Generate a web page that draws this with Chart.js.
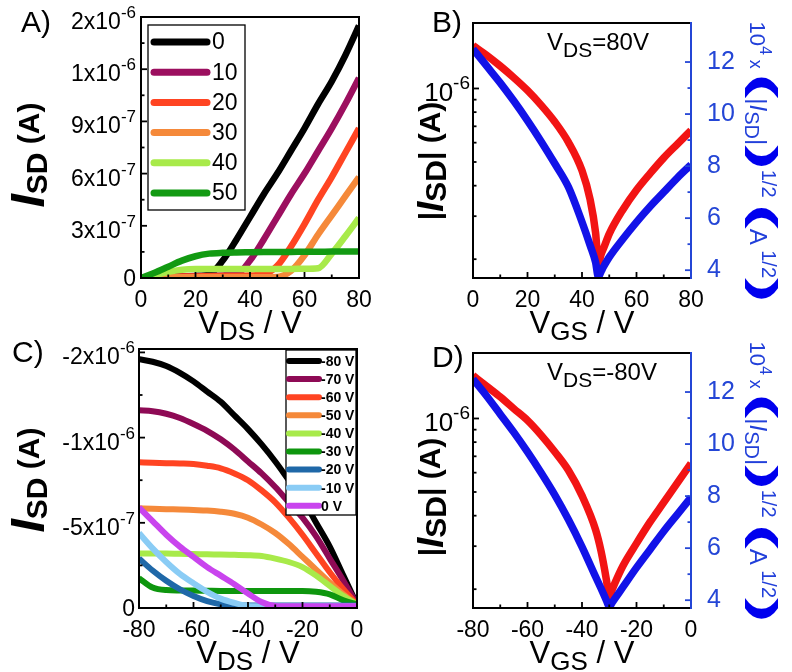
<!DOCTYPE html>
<html>
<head>
<meta charset="utf-8">
<script src="https://cdn.jsdelivr.net/npm/chart.js@4.4.0/dist/chart.umd.min.js"></script>
<style>
  body { margin: 0; background: #fff; }
  #wrap { position: relative; width: 792px; height: 672px; overflow: hidden; }
  canvas { position: absolute; }
</style>
</head>
<body>
<div id="wrap">
  <canvas id="chartA" width="396" height="345" style="left:0;top:0"></canvas>
  <canvas id="chartB" width="396" height="345" style="left:396px;top:0"></canvas>
  <canvas id="chartC" width="396" height="342" style="left:0;top:330px"></canvas>
  <canvas id="chartD" width="396" height="342" style="left:396px;top:330px"></canvas>
</div>
<script>
// ======================
// Data (currents in µA)
// ======================
const aVds = [0, 5, 10, 15, 20, 25, 30, 35, 40, 45, 50, 55, 60, 65, 70, 75, 80];
const aLabels = ['0', '10', '20', '30', '40', '50'];
const aColors = ['#000000', '#9C0F5F', '#FF4422', '#F5893A', '#A8EA4A', '#129A12'];
const aVg0  = [0, 0.005, 0.008, 0.01, 0.012, 0.02, 0.1, 0.22, 0.35, 0.48, 0.6, 0.73, 0.86, 1.0, 1.13, 1.28, 1.45];
const aVg10 = [0, 0.004, 0.007, 0.009, 0.01, 0.012, 0.015, 0.02, 0.1, 0.22, 0.35, 0.48, 0.6, 0.73, 0.86, 1.0, 1.15];
const aVg20 = [0, 0.003, 0.006, 0.008, 0.009, 0.01, 0.011, 0.012, 0.014, 0.02, 0.07, 0.18, 0.31, 0.45, 0.58, 0.72, 0.86];
const aVg30 = [0, 0.002, 0.004, 0.005, 0.005, 0.005, 0.005, 0.005, 0.005, 0.005, 0.006, 0.04, 0.13, 0.25, 0.36, 0.47, 0.58];
const aVg40 = [0, 0.015, 0.035, 0.048, 0.052, 0.052, 0.052, 0.052, 0.052, 0.052, 0.052, 0.052, 0.053, 0.056, 0.14, 0.24, 0.345];
const aVg50 = [0, 0.03, 0.065, 0.1, 0.125, 0.14, 0.145, 0.147, 0.148, 0.149, 0.15, 0.15, 0.151, 0.151, 0.152, 0.152, 0.153];
const aXTicks = [0, 20, 40, 60, 80];
const aYTicks = [0, 0.3, 0.6, 0.9, 1.2, 1.5];
const aYTickLabels = ['0', '3x10^-7', '6x10^-7', '9x10^-7', '1x10^-6', '2x10^-6'];

const bVgs  = [0, 5, 10, 15, 20, 25, 30, 35, 40, 43, 45, 46, 47, 48, 50, 55, 60, 65, 70, 75, 80];
const bIsd  = [1.50, 1.368, 1.236, 1.107, 0.982, 0.855, 0.731, 0.603, 0.461, 0.350, 0.256, 0.192, 0.209, 0.223, 0.254, 0.319, 0.384, 0.449, 0.520, 0.592, 0.673];
const bSqrt = [12.5, 11.85, 11.2, 10.5, 9.75, 8.95, 8.1, 7.2, 5.85, 4.95, 4.3, 3.75, 3.95, 4.15, 4.5, 5.2, 5.85, 6.45, 7.0, 7.55, 8.05];

const cVds = [-80, -75, -70, -65, -60, -55, -50, -45, -40, -35, -30, -25, -20, -15, -10, -5, 0];
const cLabels = ['-80 V', '-70 V', '-60 V', '-50 V', '-40 V', '-30 V', '-20 V', '-10 V', '0 V'];
const cColors = ['#000000', '#8E0A55', '#FF4422', '#F5893A', '#A8EA4A', '#0E960E', '#1F68A8', '#8ACCF5', '#C944EE'];
const cVg80 = [-1.46, -1.445, -1.42, -1.38, -1.33, -1.27, -1.21, -1.13, -1.05, -0.96, -0.86, -0.75, -0.64, -0.5, -0.36, -0.19, -0.02];
const cVg70 = [-1.16, -1.155, -1.14, -1.115, -1.08, -1.04, -0.99, -0.93, -0.86, -0.79, -0.71, -0.62, -0.53, -0.42, -0.29, -0.16, -0.02];
const cVg60 = [-0.855, -0.853, -0.85, -0.848, -0.845, -0.835, -0.82, -0.79, -0.75, -0.69, -0.62, -0.53, -0.43, -0.32, -0.21, -0.11, -0.02];
const cVg50 = [-0.585, -0.583, -0.58, -0.578, -0.575, -0.572, -0.565, -0.553, -0.53, -0.49, -0.44, -0.375, -0.3, -0.225, -0.15, -0.08, -0.02];
const cVg40 = [-0.32, -0.32, -0.32, -0.318, -0.317, -0.315, -0.314, -0.312, -0.31, -0.305, -0.29, -0.27, -0.24, -0.19, -0.13, -0.07, -0.02];
const cVg30 = [-0.175, -0.12, -0.105, -0.103, -0.102, -0.101, -0.1, -0.1, -0.1, -0.1, -0.1, -0.1, -0.1, -0.095, -0.08, -0.045, -0.02];
const cVg20 = [-0.29, -0.22, -0.16, -0.11, -0.07, -0.04, -0.022, -0.016, -0.015, -0.015, -0.015, -0.015, -0.015, -0.015, -0.015, -0.015, -0.015];
const cVg10 = [-0.44, -0.35, -0.27, -0.2, -0.145, -0.095, -0.055, -0.03, -0.012, -0.01, -0.01, -0.01, -0.01, -0.01, -0.01, -0.01, -0.01];
const cVg0  = [-0.59, -0.51, -0.43, -0.36, -0.3, -0.24, -0.19, -0.14, -0.085, -0.035, -0.012, -0.01, -0.01, -0.01, -0.01, -0.01, -0.01];
const cXTicks = [-80, -60, -40, -20, 0];
const cYTicks = [0, -0.5, -1.0, -1.5];
const cYTickLabels = ['0', '-5x10^-7', '-1x10^-6', '-2x10^-6'];

const dVgs  = [-80, -75, -70, -65, -60, -55, -50, -45, -40, -35, -33, -31, -30, -29, -28, -25, -20, -15, -10, -5, 0];
const dIsd  = [1.50, 1.355, 1.225, 1.096, 0.982, 0.855, 0.731, 0.614, 0.483, 0.350, 0.286, 0.217, 0.184, 0.198, 0.211, 0.249, 0.308, 0.377, 0.453, 0.545, 0.655];
const dSqrt = [12.5, 11.85, 11.15, 10.45, 9.7, 8.9, 8.05, 7.1, 6.05, 4.9, 4.45, 3.98, 3.75, 3.9, 4.05, 4.5, 5.25, 5.95, 6.65, 7.3, 7.95];

const logTicks = [1];
const logTickLabels = ['10^-6'];
const logMinor = [0.2, 0.3, 0.4, 0.5, 0.6, 0.7, 0.8, 0.9];
const sqrtTicks = [4, 6, 8, 10, 12];

// ======================
// Helpers
// ======================
const FONT = "'Liberation Sans', Arial, Helvetica, sans-serif";
const f = (size, weight = 'normal', style = 'normal') => `${style} ${weight} ${size}px ${FONT}`;
const BLUE_AX = '#2446D6';
const BLUE_PAREN = '#0000EE';

Chart.defaults.font.family = FONT;

const setTicks = values => scale => { scale.ticks = values.map(v => ({ value: v })); };
const points = (xs, ys) => xs.map((x, i) => ({ x: x, y: ys[i] }));
const mids = vals => vals.slice(1).map((v, i) => (v + vals[i]) / 2);

function drawRich(ctx, item) {
  ctx.save();
  ctx.translate(item.x, item.y);
  ctx.rotate(item.angle || 0);
  ctx.textBaseline = 'alphabetic';
  let total = 0;
  const widths = item.parts.map(p => {
    ctx.font = p.font;
    const w = ctx.measureText(p.t).width * (p.sx || 1);
    total += w;
    return w;
  });
  let cx = 0;
  if (item.align === 'center') cx = -total / 2;
  if (item.align === 'right') cx = -total;
  item.parts.forEach((p, i) => {
    ctx.font = p.font;
    ctx.fillStyle = p.color || item.color || '#000';
    ctx.save();
    ctx.translate(cx, p.dy || 0);
    ctx.scale(p.sx || 1, 1);
    ctx.fillText(p.t, 0, 0);
    ctx.restore();
    cx += widths[i];
  });
  ctx.restore();
}

const textPlugin = items => ({
  id: 'richText',
  afterDraw(chart) { items.forEach(it => drawRich(chart.ctx, it)); }
});

// y tick labels of the form "3x10^-7": base text plus raised exponent
const supTickPlugin = (scaleId, labels, o) => ({
  id: 'supTicks',
  afterDraw(chart) {
    const s = chart.scales[scaleId];
    const a = chart.chartArea;
    s.ticks.forEach((t, i) => {
      const [base, sup] = labels[i].split('^');
      const py = s.getPixelForValue(t.value);
      const parts = [{ t: base, font: f(o.size) }];
      if (sup) parts.push({ t: sup, font: f(o.supSize), dy: -o.rise });
      drawRich(chart.ctx, { x: a.left - o.pad, y: py + (sup ? o.drop : o.size * 0.36), align: 'right', parts: parts });
    });
  }
});

const legendPlugin = o => ({
  id: 'boxLegend',
  afterDatasetsDraw(chart) {
    const ctx = chart.ctx;
    ctx.save();
    ctx.fillStyle = '#fff';
    ctx.fillRect(o.x, o.y, o.w, o.h);
    ctx.lineWidth = 1.3;
    ctx.strokeStyle = '#000';
    ctx.strokeRect(o.x, o.y, o.w, o.h);
    ctx.font = o.font;
    ctx.textBaseline = 'middle';
    ctx.lineCap = 'round';
    chart.data.datasets.forEach((ds, i) => {
      const y = o.row0 + i * o.rowH;
      ctx.strokeStyle = ds.borderColor;
      ctx.lineWidth = o.lw;
      ctx.beginPath();
      ctx.moveTo(o.lx0, y);
      ctx.lineTo(o.lx1, y);
      ctx.stroke();
      ctx.fillStyle = '#000';
      ctx.fillText(ds.label, o.tx, y + 1);
    });
    ctx.restore();
  }
});

const framePlugin = o => ({
  id: 'frame',
  afterDatasetsDraw(chart) {
    const { ctx, chartArea: a, scales } = chart;
    ctx.save();
    ctx.lineWidth = 1.8;
    const mark = (s, v, len, color) => {
      const p = s.getPixelForValue(v);
      ctx.strokeStyle = color;
      ctx.beginPath();
      if (s.axis === 'x') { ctx.moveTo(p, a.bottom); ctx.lineTo(p, a.bottom - len); }
      else if (s.position === 'left') { ctx.moveTo(a.left, p); ctx.lineTo(a.left + len, p); }
      else { ctx.moveTo(a.right, p); ctx.lineTo(a.right - len, p); }
      ctx.stroke();
    };
    Object.values(scales).forEach(s => {
      const color = s.id === 'y2' ? BLUE_AX : '#000';
      s.ticks.forEach(t => mark(s, t.value, 6, color));
      (o.minor[s.id] || []).forEach(v => mark(s, v, 3.5, color));
    });
    ctx.lineWidth = 2;
    ctx.strokeStyle = '#000';
    ctx.beginPath();
    ctx.moveTo(a.right, a.top);
    ctx.lineTo(a.left, a.top);
    ctx.lineTo(a.left, a.bottom);
    ctx.lineTo(a.right, a.bottom);
    ctx.stroke();
    ctx.strokeStyle = o.rightColor || '#000';
    ctx.beginPath();
    ctx.moveTo(a.right, a.top - 1);
    ctx.lineTo(a.right, a.bottom + 1);
    ctx.stroke();
    ctx.restore();
  }
});

const tickFont = size => ({ family: FONT, size: size });

function baseScales(xTicks, xMin, xMax, xH, yW) {
  return {
    x: {
      type: 'linear', min: xMin, max: xMax,
      afterBuildTicks: setTicks(xTicks),
      afterFit: s => { s.height = xH; },
      grid: { display: false }, border: { display: false },
      ticks: { font: tickFont(23), color: '#000', padding: 1, maxRotation: 0, autoSkip: false }
    },
    y: {
      position: 'left',
      afterFit: s => { s.width = yW; },
      grid: { display: false }, border: { display: false },
      ticks: { display: false }
    }
  };
}

const commonOpts = padding => ({
  responsive: false,
  animation: false,
  events: [],
  layout: { padding: padding },
  plugins: { legend: { display: false }, tooltip: { enabled: false } }
});

// ======================
// Panel A
// ======================
(function () {
  const series = [aVg0, aVg10, aVg20, aVg30, aVg40, aVg50];
  const scales = baseScales(aXTicks, 0, 80, 345 - 278, 141);
  Object.assign(scales.y, { type: 'linear', min: 0, max: 1.5, afterBuildTicks: setTicks(aYTicks) });
  new Chart(document.getElementById('chartA'), {
    type: 'line',
    data: {
      datasets: series.map((s, i) => ({
        label: aLabels[i], data: points(aVds, s), borderColor: aColors[i],
        borderWidth: 6.5, pointRadius: 0, cubicInterpolationMode: 'monotone', order: -i
      }))
    },
    options: Object.assign(commonOpts({ top: 17, right: 37, bottom: 0, left: 0 }), { scales: scales }),
    plugins: [
      legendPlugin({ x: 148, y: 25, w: 97, h: 185, row0: 42, rowH: 30.2, lx0: 154, lx1: 207, lw: 7, tx: 212, font: f(23) }),
      framePlugin({ minor: { x: mids(aXTicks), y: mids(aYTicks) } }),
      supTickPlugin('y', aYTickLabels, { size: 23, supSize: 17, rise: 11, drop: 12, pad: 5 }),
      textPlugin([
        { x: 21, y: 32, parts: [{ t: 'A)', font: f(30) }] },
        { x: 39, y: 155, angle: -Math.PI / 2, align: 'center', parts: [
          { t: 'I', font: f(48, 'bold', 'italic'), dy: 5 },
          { t: 'SD', font: f(30, 'bold'), dy: 8 },
          { t: ' (A)', font: f(30, 'bold') }] },
        { x: 250, y: 333, align: 'center', parts: [
          { t: 'V', font: f(31) }, { t: 'DS', font: f(26), dy: 7 }, { t: ' / V', font: f(31) }] }
      ])
    ]
  });
})();

// ======================
// Panels B and D (transfer curves)
// ======================
function transferChart(id, xs, isd, sq, xTicks, xMin, xMax, xH, texts) {
  const scales = baseScales(xTicks, xMin, xMax, xH, 77);
  Object.assign(scales.y, { type: 'logarithmic', min: 0.1675, max: 1.854, afterBuildTicks: setTicks(logTicks) });
  scales.y2 = {
    type: 'linear', position: 'right', min: 3.7, max: 13.5,
    afterBuildTicks: setTicks(sqrtTicks),
    afterFit: s => { s.width = 101; },
    grid: { display: false }, border: { display: false },
    ticks: { font: tickFont(25), color: BLUE_AX, padding: 8, autoSkip: false }
  };
  new Chart(document.getElementById(id), {
    type: 'line',
    data: {
      datasets: [
        { label: '|ISD|', data: points(xs, isd), yAxisID: 'y', borderColor: '#F21414', borderWidth: 7.5, pointRadius: 0, cubicInterpolationMode: 'monotone', order: 0 },
        { label: 'sqrt', data: points(xs, sq), yAxisID: 'y2', borderColor: '#1212E8', borderWidth: 7.5, pointRadius: 0, cubicInterpolationMode: 'monotone', order: -1 }
      ]
    },
    options: Object.assign(commonOpts({ top: 17, right: 0, bottom: 0, left: 0 }), { scales: scales }),
    plugins: [
      framePlugin({ minor: { x: mids(xTicks), y: logMinor, y2: mids(sqrtTicks) }, rightColor: BLUE_AX }),
      supTickPlugin('y', logTickLabels, { size: 26, supSize: 19, rise: 12, drop: 13, pad: 3 }),
      textPlugin(texts)
    ]
  });
}

function rightTitle(cy) {
  const main = f(24), sup = f(20), paren = f(35, 'bold');
  return { x: 354, y: cy, angle: Math.PI / 2, align: 'center', color: '#2240DA', parts: [
    { t: '10', font: f(22) }, { t: '4', font: f(16), dy: -10 }, { t: ' x ', font: f(18) },
    { t: '(', font: paren, dy: -2, sx: 2.1, color: BLUE_PAREN },
    { t: '|', font: main }, { t: 'I', font: f(24, 'normal', 'italic') }, { t: 'SD', font: f(20), dy: 5 }, { t: '|', font: main },
    { t: ')', font: paren, dy: -2, sx: 2.1, color: BLUE_PAREN },
    { t: '1/2', font: sup, dy: -12 }, { t: ' ', font: main },
    { t: '(', font: paren, dy: -2, sx: 2.1, color: BLUE_PAREN },
    { t: 'A', font: main }, { t: ' 1/2', font: sup, dy: -12 },
    { t: ')', font: paren, dy: -2, sx: 2.1, color: BLUE_PAREN }] };
}

function leftTitle(cy) {
  return { x: 44, y: cy, angle: -Math.PI / 2, align: 'center', parts: [
    { t: '|', font: f(30, 'bold') }, { t: 'I', font: f(37, 'bold', 'italic'), dy: 3 },
    { t: 'SD', font: f(30, 'bold'), dy: 6 }, { t: '|', font: f(30, 'bold') }, { t: ' (A)', font: f(30, 'bold') }] };
}

transferChart('chartB', bVgs, bIsd, bSqrt, aXTicks, 0, 80, 345 - 278, [
  { x: 36, y: 32, parts: [{ t: 'B)', font: f(30) }] },
  leftTitle(161),
  { x: 151, y: 50, parts: [{ t: 'V', font: f(24) }, { t: 'DS', font: f(21), dy: 7 }, { t: '=80V', font: f(24) }] },
  rightTitle(162),
  { x: 186, y: 333, align: 'center', parts: [
    { t: 'V', font: f(31) }, { t: 'GS', font: f(26), dy: 7 }, { t: ' / V', font: f(31) }] }
]);

// ======================
// Panel C
// ======================
(function () {
  const series = [cVg80, cVg70, cVg60, cVg50, cVg40, cVg30, cVg20, cVg10, cVg0];
  const scales = baseScales(cXTicks, -80, 0, 342 - 278, 139);
  Object.assign(scales.y, { type: 'linear', min: -1.52, max: 0, reverse: true, afterBuildTicks: setTicks(cYTicks) });
  new Chart(document.getElementById('chartC'), {
    type: 'line',
    data: {
      datasets: series.map((s, i) => ({
        label: cLabels[i], data: points(cVds, s), borderColor: cColors[i],
        borderWidth: 6, pointRadius: 0, cubicInterpolationMode: 'monotone', order: -i
      }))
    },
    options: Object.assign(commonOpts({ top: 19, right: 39, bottom: 0, left: 0 }), { scales: scales }),
    plugins: [
      legendPlugin({ x: 286, y: 20, w: 70, h: 165, row0: 31, rowH: 18.1, lx0: 289, lx1: 319, lw: 6, tx: 321, font: f(14, 'bold') }),
      framePlugin({ minor: { x: mids(cXTicks), y: mids(cYTicks) } }),
      supTickPlugin('y', cYTickLabels, { size: 23, supSize: 17, rise: 11, drop: 12, pad: 4 }),
      textPlugin([
        { x: 12, y: 32, parts: [{ t: 'C)', font: f(30) }] },
        { x: 39, y: 150, angle: -Math.PI / 2, align: 'center', parts: [
          { t: 'I', font: f(48, 'bold', 'italic'), dy: 5 },
          { t: 'SD', font: f(30, 'bold'), dy: 8 },
          { t: ' (A)', font: f(30, 'bold') }] },
        { x: 248, y: 333, align: 'center', parts: [
          { t: 'V', font: f(31) }, { t: 'DS', font: f(26), dy: 7 }, { t: ' / V', font: f(31) }] }
      ])
    ]
  });
})();

// ======================
// Panel D
// ======================
transferChart('chartD', dVgs, dIsd, dSqrt, cXTicks, -80, 0, 342 - 278, [
  { x: 36, y: 37, parts: [{ t: 'D)', font: f(30) }] },
  leftTitle(167),
  { x: 151, y: 50, parts: [{ t: 'V', font: f(24) }, { t: 'DS', font: f(21), dy: 7 }, { t: '=-80V', font: f(24) }] },
  rightTitle(152),
  { x: 186, y: 333, align: 'center', parts: [
    { t: 'V', font: f(31) }, { t: 'GS', font: f(26), dy: 7 }, { t: ' / V', font: f(31) }] }
]);
</script>
</body>
</html>
